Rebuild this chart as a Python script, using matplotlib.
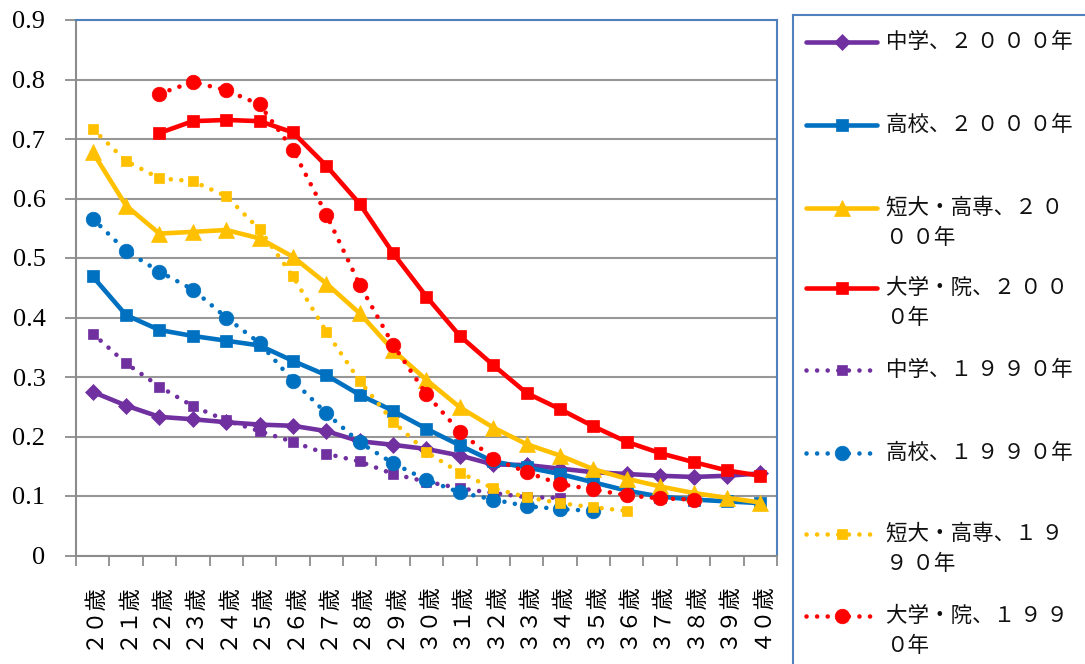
import matplotlib
matplotlib.use("Agg")
import matplotlib.pyplot as plt
import numpy as np

plt.rcParams["font.family"] = ["Liberation Serif", "DejaVu Serif"]

# Age categories (x axis)
ages = ["２０歳", "２１歳", "２２歳", "２３歳", "２４歳", "２５歳", "２６歳",
        "２７歳", "２８歳", "２９歳", "３０歳", "３１歳", "３２歳", "３３歳",
        "３４歳", "３５歳", "３６歳", "３７歳", "３８歳", "３９歳", "４０歳"]

# 2000 survey
junior_2000 = [0.275, 0.252, 0.233, 0.229, 0.224, 0.220, 0.218, 0.209, 0.192, 0.186, 0.179,
               0.168, 0.153, 0.152, 0.146, 0.140, 0.137, 0.134, 0.132, 0.134, 0.138]
high_2000 = [0.469, 0.404, 0.379, 0.369, 0.361, 0.353, 0.327, 0.303, 0.270, 0.243, 0.213,
             0.185, 0.158, 0.148, 0.137, 0.123, 0.109, 0.099, 0.094, 0.091, 0.088]
college_2000 = [0.678, 0.588, 0.541, 0.544, 0.547, 0.533, 0.502, 0.457, 0.407, 0.345, 0.295,
                0.249, 0.215, 0.187, 0.168, 0.145, 0.129, 0.116, 0.105, 0.097, 0.089]
univ_2000 = [None, None, 0.710, 0.730, 0.732, 0.730, 0.711, 0.655, 0.591, 0.508, 0.435,
             0.369, 0.320, 0.273, 0.246, 0.217, 0.191, 0.172, 0.157, 0.143, 0.134]

# 1990 survey
junior_1990 = [0.373, 0.323, 0.284, 0.251, 0.227, 0.209, 0.191, 0.171, 0.158, 0.137, 0.124,
               0.113, 0.105, 0.098, 0.097]
high_1990 = [0.566, 0.512, 0.477, 0.447, 0.400, 0.357, 0.294, 0.239, 0.190, 0.155, 0.127,
             0.106, 0.094, 0.083, 0.078, 0.075]
college_1990 = [0.717, 0.663, 0.634, 0.629, 0.604, 0.548, 0.469, 0.376, 0.293, 0.225, 0.174,
                0.139, 0.113, 0.098, 0.088, 0.081, 0.075]
univ_1990 = [None, None, 0.776, 0.796, 0.782, 0.758, 0.682, 0.573, 0.455, 0.354, 0.271,
             0.208, 0.163, 0.140, 0.120, 0.111, 0.101, 0.096, 0.094]

labels = ["中学、２ ０ ０ ０年", "高校、２ ０ ０ ０年", "短大・高専、２ ０\n０ ０年",
          "大学・院、２ ０ ０\n０年", "中学、１ ９ ９ ０年", "高校、１ ９ ９ ０年",
          "短大・高専、１ ９\n９ ０年", "大学・院、１ ９ ９\n０年"]

PURPLE, BLUE, GOLD, RED = "#7030A0", "#0070C0", "#FFC000", "#FF0000"
DOT = (0, (0.01, 2.3))
LW = 3.3
JP = ["Noto Sans CJK JP", "DejaVu Sans"]

series = [
    (junior_2000, dict(color=PURPLE, ls="-", marker="D", ms=7.8)),
    (high_2000, dict(color=BLUE, ls="-", marker="s", ms=8.0)),
    (college_2000, dict(color=GOLD, ls="-", marker="^", ms=11.0)),
    (univ_2000, dict(color=RED, ls="-", marker="s", ms=8.2)),
    (junior_1990, dict(color=PURPLE, ls=DOT, marker="s", ms=7.6)),
    (high_1990, dict(color=BLUE, ls=DOT, marker="o", ms=10.5)),
    (college_1990, dict(color=GOLD, ls=DOT, marker="s", ms=7.6)),
    (univ_1990, dict(color=RED, ls=DOT, marker="o", ms=10.5)),
]

W, H = 1085, 664
fig = plt.figure(figsize=(W / 100, H / 100), dpi=100)
fig.patch.set_facecolor("white")

ax = fig.add_axes([76 / W, 1 - 555.5 / H, (777 - 76) / W, (555.5 - 20) / H])
x = np.arange(len(ages))

for z, (vals, st) in enumerate(series):
    y = np.array([np.nan if v is None else v for v in vals], dtype=float)
    xs = x[:len(y)]
    ax.plot(xs, y, color=st["color"], ls=st["ls"], lw=LW, marker=st["marker"],
            ms=st["ms"], mec=st["color"], mfc=st["color"], mew=0.5,
            dash_capstyle="round", solid_joinstyle="round", zorder=3 + z)

ax.set_xlim(-0.5, len(ages) - 0.5)
ax.set_ylim(0, 0.9)
yt = np.round(np.arange(0, 0.91, 0.1), 1)
ax.set_yticks(yt)
ax.set_yticklabels(["0" if v == 0 else f"{v:.1f}" for v in yt])
ax.yaxis.grid(True, color="#979797", lw=1.5)
ax.set_axisbelow(True)

ax.set_xticks(x)
ax.set_xticklabels(ages, rotation=90, fontfamily=JP, fontsize=16, va="top")
ax.set_xticks(np.arange(-0.5, len(ages), 1), minor=True)
ax.tick_params(axis="x", which="major", length=0, pad=19)
ax.tick_params(axis="x", which="minor", length=7, width=1.3, color="#8c8c8c", direction="out")
ax.tick_params(axis="y", length=8, width=1.3, color="#8c8c8c", pad=14, labelsize=19)

for s in ("left", "bottom"):
    ax.spines[s].set_color("#8c8c8c")
    ax.spines[s].set_linewidth(1.5)
for s in ("top", "right"):
    ax.spines[s].set_color("#4F81BD")
    ax.spines[s].set_linewidth(1.5)

# Legend panel, laid out in pixel coordinates
lx0, ly0 = 793, 15
lax = fig.add_axes([lx0 / W, 0, 1 - lx0 / W, 1 - ly0 / H])
lax.set_xlim(lx0, W)
lax.set_ylim(H, ly0)
lax.set_xticks([])
lax.set_yticks([])
for s in ("right", "bottom"):
    lax.spines[s].set_visible(False)
for s in ("left", "top"):
    lax.spines[s].set_color("#4F81BD")
    lax.spines[s].set_linewidth(1.5)

entry_y = [42, 125, 208, 288, 370, 453, 534, 616]
for (vals, st), lab, ey in zip(series, labels, entry_y):
    lax.plot([806, 877], [ey, ey], color=st["color"], ls=st["ls"], lw=LW,
             dash_capstyle="round", solid_capstyle="round")
    lax.plot([841.5], [ey], marker=st["marker"], ms=st["ms"], color=st["color"], mew=0.5)
    for k, line in enumerate(lab.split("\n")):
        lax.text(886, ey + k * 30.5, line, fontsize=15.5, va="center", ha="left",
                 fontfamily=JP, color="#111111")

fig.savefig("out.png", dpi=100, facecolor="white")
